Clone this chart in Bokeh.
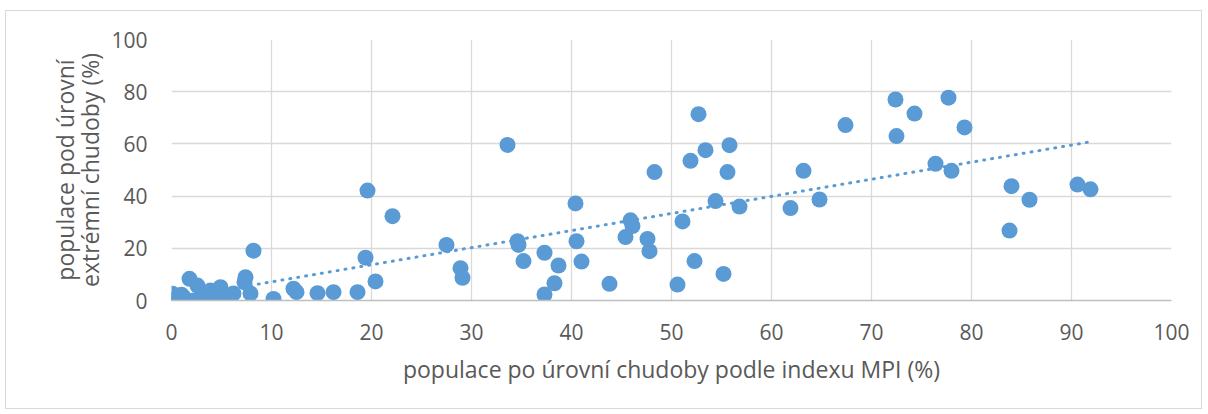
from bokeh.plotting import figure
from bokeh.embed import file_html
from bokeh.resources import INLINE
from bokeh.models import FixedTicker, Range1d, LinearAxis

# MPI poverty (%) vs extreme poverty (%)
mpi = [0.1, 0.2, 1.2, 2.2, 1.8, 2.6, 3.9, 4.2, 4.9, 5.4, 6.2, 7.4, 7.3, 7.9, 8.2,
       10.2, 12.2, 12.5, 14.6, 16.2, 18.6, 19.6, 22.1, 19.4, 20.4, 27.5, 28.9, 29.1,
       33.6, 34.6, 34.7, 35.2, 37.3, 37.3, 38.3, 38.7, 40.4, 40.5, 41.0, 43.8, 45.4,
       45.9, 46.1, 47.6, 47.8, 48.3, 51.1, 50.6, 52.7, 51.9, 53.4, 55.8, 55.6, 54.4,
       56.8, 52.3, 55.2, 63.2, 61.9, 64.8, 67.4, 72.4, 72.5, 74.3, 77.7, 79.3, 76.4,
       78.0, 84.0, 83.8, 85.8, 90.6, 91.9, 0.5, 1.0, 3.0, 5.0]
extreme = [2.6, 0.0, 1.3, 0.0, 8.3, 5.7, 3.8, 0.8, 5.1, 1.1, 2.7, 8.9, 7.0, 2.7, 19.1,
           0.6, 4.5, 3.2, 2.8, 3.2, 3.2, 42.1, 32.3, 16.4, 7.3, 21.3, 12.4, 8.7,
           59.6, 22.7, 21.3, 15.1, 18.3, 2.3, 6.6, 13.4, 37.2, 22.7, 14.9, 6.4, 24.3,
           30.7, 28.5, 23.6, 18.9, 49.2, 30.3, 6.1, 71.4, 53.5, 57.6, 59.5, 49.2, 38.1,
           36.0, 15.1, 10.2, 49.7, 35.4, 38.7, 67.2, 77.0, 63.0, 71.6, 77.7, 66.3, 52.4,
           49.7, 43.8, 26.8, 38.6, 44.4, 42.6, 0.8, 2.2, 1.5, 2.0]

# linear trend line endpoints
trend_x = [0.0, 91.9]
trend_y = [0.6, 60.8]

ticks = [0, 10, 20, 30, 40, 50, 60, 70, 80, 90, 100]
yticks = [0, 20, 40, 60, 80, 100]
x_title = "populace po úrovní chudoby podle indexu MPI (%)"
y_title_lines = ["populace pod úrovní", "extrémní chudoby (%)"]

W, H = 1197, 399
p = figure(width=W, height=H, output_backend="svg", toolbar_location=None,
           x_range=Range1d(0, 100), y_range=Range1d(0, 100),
           min_border_left=165, min_border_right=32, min_border_top=28, min_border_bottom=110)
p.styles = {"border": "1px solid #d9d9d9", "margin-top": "10px", "margin-left": "5px"}
p.outline_line_color = None
p.background_fill_color = "white"
p.border_fill_color = "white"

p.scatter(mpi, extreme, size=16, fill_color="#5B9BD5", line_color=None)
p.line(trend_x, trend_y, line_color="#5B9BD5", line_width=3, line_dash="1 7", line_cap="round")

font = "Open Sans"
p.xaxis.ticker = FixedTicker(ticks=ticks)
p.yaxis.ticker = FixedTicker(ticks=yticks)

outer = LinearAxis(ticker=FixedTicker(ticks=[]), axis_label=y_title_lines[0])
p.add_layout(outer, "left")

for ax in (p.xaxis[0], p.yaxis[0], outer):
    ax.major_tick_line_color = None
    ax.minor_tick_line_color = None
    ax.major_label_text_font = font
    ax.major_label_text_font_size = "21px"
    ax.major_label_text_color = "#595959"
    ax.axis_label_text_font = font
    ax.axis_label_text_font_size = "23px"
    ax.axis_label_text_font_style = "normal"
    ax.axis_label_text_color = "#595959"
p.xaxis.axis_line_color = "#bfbfbf"
p.xaxis.axis_line_width = 1.5
p.yaxis[0].axis_line_color = None
outer.axis_line_color = None
p.xaxis.major_label_standoff = 17
p.yaxis[0].major_label_standoff = 18
p.xaxis.axis_label = x_title
p.xaxis.axis_label_standoff = 10
p.yaxis[0].axis_label = y_title_lines[1]
p.yaxis[0].axis_label_standoff = 2
outer.major_label_standoff = 0
outer.axis_label_standoff = -9

p.xgrid.ticker = FixedTicker(ticks=ticks)
p.ygrid.ticker = FixedTicker(ticks=yticks)
p.grid.grid_line_color = "#d9d9d9"
p.grid.grid_line_width = 1.3

open("out.html", "w").write(file_html(p, INLINE))
